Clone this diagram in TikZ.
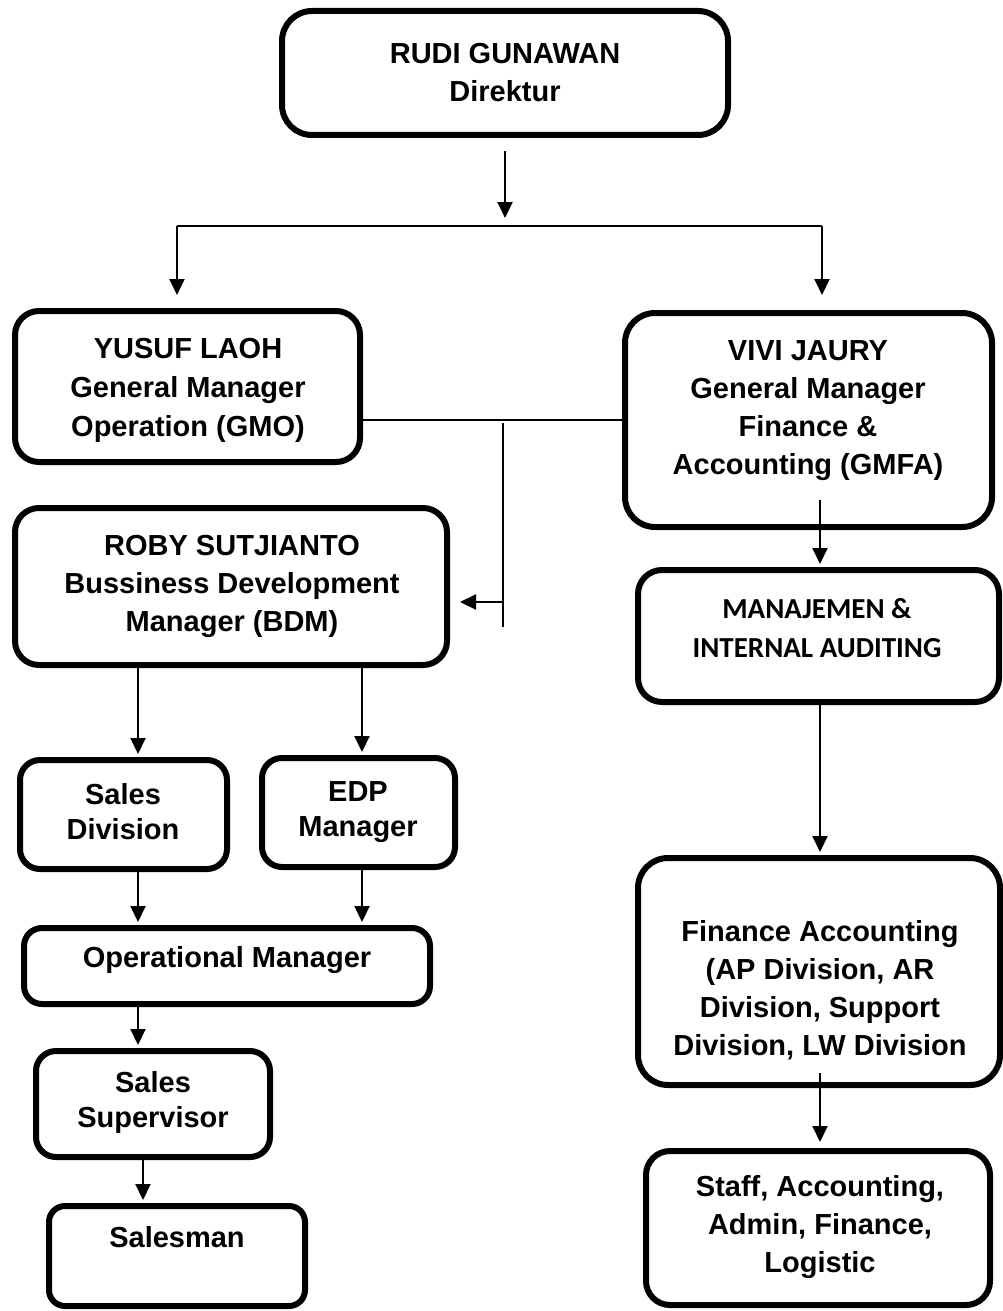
\documentclass[tikz,border=0pt]{standalone}
\usepackage{fontspec}
\setmainfont{Liberation Sans}
\newfontfamily\calib{Carlito}
\usetikzlibrary{arrows.meta}
\begin{document}
\begin{tikzpicture}[x=1pt,y=-1pt,
  box/.style={draw, line width=6pt, rounded corners=24pt, inner sep=0pt},
  lbl/.style={font=\bfseries\fontsize{29}{38}\selectfont, align=center, inner sep=0pt, yshift=-2.5pt},
  lblc/.style={font=\calib\bfseries\fontsize{29}{39}\selectfont, align=center, inner sep=0pt},
  conn/.style={line width=2pt},
  arr/.style={conn, -{Triangle[length=16pt,width=15pt]}}]
\useasboundingbox[fill=white] (0,0) rectangle (1003,1311);

% boxes
\node[box, rounded corners=30pt, minimum width=446pt, minimum height=124pt] (rudi) at (505,73) {};
\node[box, minimum width=345pt, minimum height=151pt] (yusuf) at (187.5,386.5) {};
\node[box, rounded corners=30pt, minimum width=367pt, minimum height=214pt] (vivi) at (808.5,420) {};
\node[box, minimum width=432pt, minimum height=157pt] (roby) at (231,586.5) {};
\node[box, minimum width=361pt, minimum height=132pt] (manaj) at (818.5,636) {};
\node[box, rounded corners=30pt, minimum width=362pt, minimum height=227pt] (fin) at (819,971.5) {};
\node[box, minimum width=344pt, minimum height=154pt] (staff) at (818,1228) {};
\node[box, rounded corners=20pt, minimum width=207pt, minimum height=109pt] (sdiv) at (123.5,814.5) {};
\node[box, rounded corners=20pt, minimum width=193pt, minimum height=109pt] (edp) at (358.5,812.5) {};
\node[box, rounded corners=18pt, minimum width=406pt, minimum height=76pt] (opm) at (227,966) {};
\node[box, rounded corners=20pt, minimum width=234pt, minimum height=106pt] (sup) at (153,1104) {};
\node[box, rounded corners=16pt, minimum width=256pt, minimum height=100pt] (sman) at (177,1256) {};

% texts
\node[lbl] (rudiT) at (505,70.5) {RUDI GUNAWAN\\Direktur};
\node[lbl, font=\bfseries\fontsize{29}{39}\selectfont] (yusufT) at (188,388) {YUSUF LAOH\\General Manager\\Operation (GMO)};
\node[lbl] (viviT) at (808,408.5) {VIVI JAURY\\General Manager\\Finance \&\\Accounting (GMFA)};
\node[lbl] (robyT) at (232,583.5) {ROBY SUTJIANTO\\Bussiness Development\\Manager (BDM)};
\node[lblc] (manajT) at (817,628) {MANAJEMEN \&\\INTERNAL AUDITING};
\node[lbl] (finT) at (820,988) {Finance Accounting\\(AP Division, AR\\Division, Support\\Division, LW Division};
\node[lbl] (staffT) at (820,1225) {Staff, Accounting,\\Admin, Finance,\\Logistic};
\node[lbl, font=\bfseries\fontsize{29}{35}\selectfont] (sdivT) at (123,809.5) {Sales\\Division};
\node[lbl, font=\bfseries\fontsize{29}{35}\selectfont] (edpT) at (358,810) {EDP\\Manager};
\node[lbl] (opmT) at (227,958) {Operational Manager};
\node[lbl, font=\bfseries\fontsize{29}{35}\selectfont] (supT) at (153,1100) {Sales\\Supervisor};
\node[lbl] (smanT) at (177,1235) {Salesman};

% junction coordinates
\coordinate (busC) at (505,226);
\coordinate (busL) at (177,226);
\coordinate (busR) at (822,226);
\coordinate (mid) at (503,420);
\coordinate (midB) at (503,627);
\coordinate (midA) at (503,602);
\coordinate (vm) at (820,500);
\coordinate (fs) at (820,1073);
\coordinate (colA) at (138,0);
\coordinate (colB) at (362,0);
\coordinate (colC) at (143,0);

% connectors
\draw[arr, shorten <=13pt, shorten >=8pt] (rudi.south) -- (busC);
\draw[conn] (busL) -- (busR);
\draw[arr, shorten >=13pt] (busL) -- (busL |- yusuf.north);
\draw[arr, shorten >=15pt] (busR) -- (busR |- vivi.north);
\draw[conn] (yusuf.east |- mid) -- (vivi.west |- mid);
\draw[conn] ([yshift=-3pt]mid) -- (midB);
\draw[arr, shorten >=10pt] (midA) -- (roby.east |- midA);
\draw[arr, shorten >=3pt] (vm) -- (vm |- manaj.north);
\draw[arr, shorten >=3pt] (vm |- manaj.south) -- (vm |- fin.north);
\draw[arr, shorten >=6pt] (fs) -- (fs |- staff.north);
\draw[arr, shorten >=3pt] (roby.south -| colA) -- (sdiv.north -| colA);
\draw[arr, shorten >=3pt] (roby.south -| colB) -- (edp.north -| colB);
\draw[arr, shorten >=3pt] (sdiv.south -| colA) -- (opm.north -| colA);
\draw[arr, shorten >=3pt] (edp.south -| colB) -- (opm.north -| colB);
\draw[arr, shorten >=3pt] (opm.south -| colA) -- (sup.north -| colA);
\draw[arr, shorten >=3pt] (sup.south -| colC) -- (sman.north -| colC);
\end{tikzpicture}
\end{document}
